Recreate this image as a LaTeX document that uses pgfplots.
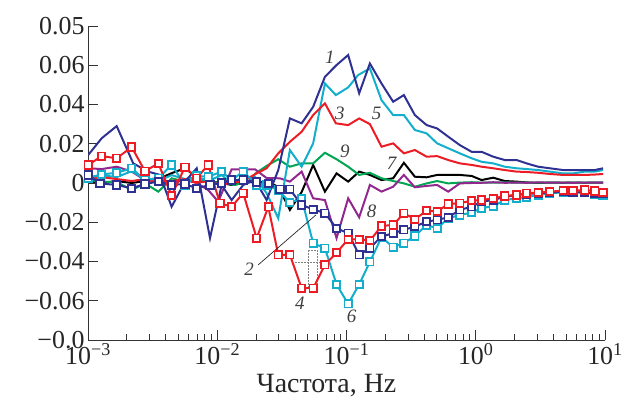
\documentclass[border=0pt]{standalone}
\usepackage{fontspec}
\setmainfont{Liberation Serif}
\usepackage{pgfplots}
\pgfplotsset{compat=1.18}
\definecolor{cblue}{HTML}{2E3192}
\definecolor{cred}{HTML}{ED1C24}
\definecolor{ccyan}{HTML}{12AECB}
\definecolor{cpurple}{HTML}{92278F}
\definecolor{cgreen}{HTML}{00A651}
\begin{document}
\begin{tikzpicture}
\useasboundingbox (-88bp,-62bp) rectangle (545bp,340bp);
\begin{axis}[
 at={(0,0)}, anchor=south west,
 scale only axis, width=517bp, height=314bp,
 xmin=-3, xmax=1, ymin=-0.08, ymax=0.08,
 scaled y ticks=false, scaled x ticks=false,
 axis lines=left, axis line style={-, line width=0.9pt, black!80},
 xtick={-3,-2,-1,0,1},
 xticklabels={10\textsuperscript{−3},10\textsuperscript{−2},10\textsuperscript{−1},10\textsuperscript{0},10\textsuperscript{1}},
 minor xtick={-2.699,-2.523,-2.398,-2.301,-2.222,-2.155,-2.097,-2.046,
  -1.699,-1.523,-1.398,-1.301,-1.222,-1.155,-1.097,-1.046,
  -0.699,-0.523,-0.398,-0.301,-0.222,-0.155,-0.097,-0.046,
  0.301,0.477,0.602,0.699,0.778,0.845,0.903,0.954},
 ytick={-0.08,-0.06,-0.04,-0.02,0,0.02,0.04,0.06,0.08},
 yticklabels={−0.0,−0.06,−0.04,−0.02,0,0.02,0.04,0.06,0.05},
 tick align=inside,
 major tick length=10bp, minor tick length=6bp,
 tick style={black!80, line width=0.9pt},
 tick label style={font=\fontsize{26}{28}\selectfont, text=black!85},
 xlabel={Частота, Hz},
 xlabel style={font=\fontsize{28}{30}\selectfont, text=black!85, xshift=-20bp, yshift=-3bp},
 every axis plot/.append style={line width=2pt},
 sq/.style={mark=square*, mark size=3.7pt, mark options={fill=white, solid, line width=1.8pt}},
]
% 7 black
\addplot[black, no markers] coordinates {
(-2.998,0.001)(-2.894,0.000)(-2.778,0.001)(-2.662,0.000)(-2.559,0.001)(-2.456,0.002)
(-2.353,0.005)(-2.250,0.0075)(-2.159,0.003)(-2.070,0.001)(-1.966,0.000)(-1.889,-0.001)
(-1.799,0.001)(-1.695,0.000)(-1.618,0.001)(-1.528,-0.002)
(-1.438,-0.0137)(-1.347,-0.0046)(-1.258,0.0092)(-1.167,-0.0044)(-1.077,0.0049)
(-0.987,0.0007)(-0.902,0.0058)(-0.819,0.0041)(-0.729,0.0015)(-0.639,0.0024)
(-0.556,0.0103)(-0.471,0.0032)(-0.380,0.0029)(-0.299,0.0041)(-0.213,0.0041)
(-0.123,0.0041)(-0.032,0.0036)(0.045,0.0015)(0.135,0.0027)(0.225,0.0010)
(0.316,0.0007)(0.393,0.0003)(0.483,0.0000)(0.573,0.0002)(0.676,0.0001)
(0.753,0.0002)(0.844,0.0001)(0.921,0.0002)(0.985,0.0002)};
% 9 green
\addplot[cgreen, no markers] coordinates {
(-2.998,0.0015)(-2.894,0.0007)(-2.778,0.0005)(-2.662,-0.0036)(-2.559,-0.0002)
(-2.456,-0.0044)(-2.353,0.0024)(-2.250,0.0007)(-2.159,0.0015)(-2.070,0.0007)
(-1.966,0.0000)(-1.863,-0.0010)(-1.760,0.0007)(-1.700,0.0051)(-1.618,0.0087)
(-1.528,0.0121)(-1.438,0.0083)(-1.347,0.0100)(-1.258,0.0100)(-1.167,0.0154)
(-1.077,0.0121)(-0.987,0.0083)(-0.902,0.0041)(-0.819,0.0052)(-0.729,0.0024)
(-0.639,0.0010)(-0.556,-0.0002)(-0.471,-0.0019)(-0.380,-0.0002)(-0.299,0.0010)
(-0.213,-0.0002)(-0.123,0.0002)(-0.032,0.0004)(0.045,0.0002)(0.135,0.0002)
(0.225,0.0003)(0.316,0.0002)(0.393,0.0002)(0.483,0.0002)(0.573,0.0002)
(0.676,0.0002)(0.753,0.0002)(0.844,0.0002)(0.921,0.0002)(0.985,0.0002)};
% 8 purple
\addplot[cpurple, no markers] coordinates {
(-2.998,0.0075)(-2.894,0.0071)(-2.778,0.0083)(-2.662,0.0058)(-2.559,0.0015)
(-2.456,0.0025)(-2.353,0.0000)(-2.250,0.0015)(-2.159,0.0000)(-2.070,-0.0036)
(-1.992,-0.0095)(-1.889,0.0070)(-1.799,0.0070)(-1.708,0.0070)(-1.618,0.0025)
(-1.515,0.0024)(-1.438,0.0007)(-1.347,0.0058)(-1.258,-0.0078)(-1.167,-0.0087)
(-1.077,-0.0281)(-0.987,-0.0078)(-0.902,-0.0175)(-0.819,-0.0010)(-0.729,-0.0044)
(-0.639,-0.0019)(-0.556,0.0041)(-0.471,-0.0022)(-0.380,-0.0015)(-0.299,-0.0010)
(-0.213,-0.0044)(-0.123,-0.0002)(-0.032,0.0000)(0.045,0.0001)(0.135,0.0004)
(0.225,0.0001)(0.316,0.0002)(0.393,0.0001)(0.483,0.0003)(0.573,0.0002)
(0.676,0.0002)(0.753,0.0001)(0.844,0.0002)(0.921,0.0002)(0.985,0.0002)};
% 5 cyan line
\addplot[ccyan, no markers] coordinates {
(-2.998,0.003)(-2.894,0.004)(-2.778,0.003)(-2.662,0.006)(-2.559,0.002)
(-2.456,0.001)(-2.353,0.004)(-2.250,0.002)(-2.159,0.003)(-2.070,0.001)
(-1.966,0.004)(-1.889,0.000)(-1.799,0.003)(-1.708,0.003)(-1.618,-0.0052)
(-1.528,-0.0180)(-1.438,0.0168)(-1.347,0.0083)(-1.258,0.0202)(-1.167,0.0507)
(-1.082,0.0448)(-0.987,0.0487)(-0.910,0.0550)(-0.819,0.0584)(-0.729,0.0422)
(-0.639,0.0346)(-0.556,0.0346)(-0.471,0.0270)(-0.380,0.0253)(-0.299,0.0202)
(-0.213,0.0177)(-0.123,0.0151)(-0.032,0.0126)(0.045,0.0108)(0.135,0.0100)
(0.225,0.0083)(0.316,0.0075)(0.393,0.0071)(0.483,0.0066)(0.573,0.0058)
(0.676,0.0049)(0.753,0.0049)(0.844,0.0058)(0.921,0.0058)(0.985,0.0066)};
% 3 red line
\addplot[cred, no markers] coordinates {
(-2.998,0.002)(-2.894,0.003)(-2.778,0.002)(-2.662,0.001)(-2.559,0.002)
(-2.456,0.000)(-2.353,0.001)(-2.250,0.002)(-2.159,0.000)(-2.070,0.001)
(-1.966,-0.001)(-1.889,0.000)(-1.799,0.001)(-1.695,0.0049)(-1.618,0.0075)
(-1.528,0.0151)(-1.438,0.0210)(-1.347,0.0261)(-1.258,0.0346)(-1.167,0.0406)
(-1.082,0.0304)(-0.987,0.0295)(-0.902,0.0329)(-0.819,0.0300)(-0.729,0.0185)
(-0.639,0.0202)(-0.556,0.0151)(-0.471,0.0168)(-0.380,0.0134)(-0.299,0.0137)
(-0.213,0.0117)(-0.123,0.0100)(-0.032,0.0092)(0.045,0.0083)(0.135,0.0075)
(0.225,0.0066)(0.316,0.0058)(0.393,0.0056)(0.483,0.0052)(0.573,0.0046)
(0.676,0.0041)(0.753,0.0041)(0.844,0.0041)(0.921,0.0043)(0.985,0.0046)};
% 1 blue line
\addplot[cblue, no markers] coordinates {
(-2.998,0.0143)(-2.894,0.0228)(-2.778,0.0290)(-2.650,0.0100)(-2.535,0.0058)
(-2.443,0.0041)(-2.353,-0.0121)(-2.250,0.0007)(-2.159,0.0075)(-2.056,-0.0281)
(-1.966,-0.0010)(-1.889,-0.0087)(-1.799,-0.0010)(-1.708,0.0015)(-1.618,-0.0087)
(-1.528,0.0066)(-1.438,0.0329)(-1.347,0.0304)(-1.258,0.0388)(-1.167,0.0541)
(-1.077,0.0601)(-0.987,0.0652)(-0.902,0.0457)(-0.819,0.0609)(-0.729,0.0507)
(-0.639,0.0414)(-0.556,0.0448)(-0.471,0.0346)(-0.380,0.0295)(-0.299,0.0278)
(-0.213,0.0236)(-0.123,0.0193)(-0.032,0.0159)(0.045,0.0159)(0.135,0.0134)
(0.225,0.0117)(0.316,0.0117)(0.393,0.0100)(0.483,0.0083)(0.573,0.0075)
(0.676,0.0066)(0.753,0.0066)(0.844,0.0066)(0.921,0.0066)(0.985,0.0075)};
% dotted guide lines
\addplot[gray, densely dotted, line width=0.7pt] coordinates {(-1.296,-0.0341)(-1.296,-0.0528)};
\addplot[gray, densely dotted, line width=0.7pt] coordinates {(-1.227,-0.0341)(-1.227,-0.0528)};
\addplot[gray, densely dotted, line width=0.7pt] coordinates {(-1.399,-0.0406)(-1.206,-0.0406)};
\addplot[gray, densely dotted, line width=0.7pt] coordinates {(-1.296,-0.0341)(-1.227,-0.0341)};
% 6 cyan squares
\addplot[ccyan, sq] coordinates {
(-2.998,0.0025)(-2.894,0.0044)(-2.778,0.0052)(-2.662,0.0075)(-2.559,0.0015)
(-2.456,0.0025)(-2.353,0.0092)(-2.250,-0.0010)(-2.159,0.0036)(-2.070,0.0032)
(-1.966,0.0058)(-1.889,0.0015)(-1.799,0.0058)(-1.695,-0.0010)(-1.618,-0.0010)
(-1.528,-0.0036)(-1.438,-0.0100)(-1.347,-0.0080)(-1.258,-0.0307)(-1.167,-0.0332)
(-1.077,-0.0517)(-0.987,-0.0616)(-0.902,-0.0517)(-0.819,-0.0402)(-0.729,-0.0276)
(-0.639,-0.0327)(-0.556,-0.0307)(-0.471,-0.0270)(-0.380,-0.0214)(-0.299,-0.0231)
(-0.213,-0.0180)(-0.123,-0.0163)(-0.032,-0.0151)(0.045,-0.0129)(0.135,-0.0117)
(0.225,-0.0087)(0.316,-0.0078)(0.393,-0.0071)(0.483,-0.0061)(0.573,-0.0052)
(0.676,-0.0048)(0.753,-0.0048)(0.844,-0.0048)(0.921,-0.0056)(0.985,-0.0061)};
% 2 blue squares
\addplot[cblue, sq] coordinates {
(-2.998,0.0041)(-2.907,-0.0002)(-2.778,-0.0010)(-2.662,-0.0027)(-2.559,-0.0005)
(-2.456,0.0007)(-2.353,-0.0010)(-2.250,-0.0005)(-2.159,-0.0027)(-2.056,-0.0010)
(-1.966,0.0000)(-1.889,0.0015)(-1.799,0.0015)(-1.695,0.0005)(-1.605,-0.0002)
(-1.515,-0.0032)(-1.438,-0.0032)(-1.347,-0.0112)(-1.258,-0.0134)(-1.167,-0.0154)
(-1.077,-0.0231)(-0.987,-0.0256)(-0.902,-0.0366)(-0.819,-0.0332)(-0.729,-0.0273)
(-0.639,-0.0256)(-0.556,-0.0239)(-0.471,-0.0222)(-0.380,-0.0197)(-0.299,-0.0188)
(-0.213,-0.0175)(-0.123,-0.0137)(-0.032,-0.0121)(0.045,-0.0095)(0.135,-0.0087)
(0.225,-0.0070)(0.316,-0.0061)(0.393,-0.0056)(0.483,-0.0052)(0.573,-0.0049)
(0.676,-0.0044)(0.753,-0.0046)(0.844,-0.0049)(0.921,-0.0052)(0.985,-0.0052)};
% 4 red squares
\addplot[cred, sq] coordinates {
(-2.998,0.0092)(-2.894,0.0137)(-2.778,0.0126)(-2.662,0.0183)(-2.559,0.0060)
(-2.456,0.0100)(-2.353,-0.0064)(-2.250,0.0081)(-2.159,0.0025)(-2.070,0.0092)
(-1.979,-0.0103)(-1.889,-0.0121)(-1.799,-0.0052)(-1.695,-0.0281)(-1.605,-0.0121)
(-1.528,-0.0366)(-1.438,-0.0366)(-1.347,-0.0536)(-1.258,-0.0536)(-1.167,-0.0417)
(-1.077,-0.0355)(-0.987,-0.0287)(-0.902,-0.0287)(-0.819,-0.0294)(-0.729,-0.0219)
(-0.639,-0.0214)(-0.556,-0.0154)(-0.471,-0.0185)(-0.380,-0.0141)(-0.299,-0.0146)
(-0.213,-0.0107)(-0.123,-0.0103)(-0.032,-0.0090)(0.045,-0.0087)(0.135,-0.0078)
(0.225,-0.0066)(0.316,-0.0061)(0.393,-0.0052)(0.483,-0.0049)(0.573,-0.0044)
(0.676,-0.0039)(0.753,-0.0039)(0.844,-0.0036)(0.921,-0.0041)(0.985,-0.0049)};
% curve labels
\draw[black!85, line width=0.7pt] (axis cs:-1.683,-0.0417) -- (axis cs:-1.237,-0.0163);
\begin{scope}[every node/.style={font=\fontsize{19}{20}\selectfont\itshape, text=black!75, inner sep=0pt}]
\node at (axis cs:-1.128,0.0641) {1};
\node at (axis cs:-1.753,-0.0439) {2};
\node at (axis cs:-1.051,0.0355) {3};
\node at (axis cs:-1.360,-0.0612) {4};
\node at (axis cs:-0.767,0.0355) {5};
\node at (axis cs:-0.961,-0.0680) {6};
\node at (axis cs:-0.651,0.0100) {7};
\node at (axis cs:-0.806,-0.0146) {8};
\node at (axis cs:-1.012,0.0159) {9};
\end{scope}
\end{axis}
\end{tikzpicture}
\end{document}
